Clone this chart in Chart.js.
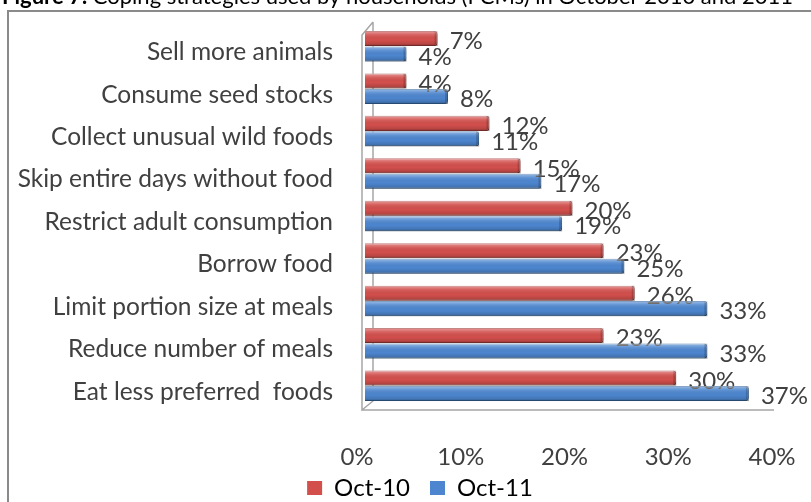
<!DOCTYPE html>
<html lang="en">
<head>
    <meta charset="UTF-8">
    <title>Coping strategies</title>
    <script src="https://cdn.jsdelivr.net/npm/chart.js"></script>
    <style>
        html, body {
            margin: 0;
            padding: 0;
            background: #ffffff;
        }
        #chart {
            display: block;
        }
    </style>
</head>
<body>
    <canvas id="chart" width="811" height="502"></canvas>

    <script>
        const strategies = [
            'Sell more animals',
            'Consume seed stocks',
            'Collect unusual wild foods',
            'Skip entire days without food',
            'Restrict adult consumption',
            'Borrow food',
            'Limit portion size at meals',
            'Reduce number of meals',
            'Eat less preferred  foods'
        ];
        const oct10 = [7, 4, 12, 15, 20, 23, 26, 23, 30];
        const oct11 = [4, 8, 11, 17, 19, 25, 33, 33, 37];
        const seriesNames = ['Oct-10', 'Oct-11'];
        const xTicks = [0, 10, 20, 30, 40];

        const fontFamily = 'Lato, "Open Sans", sans-serif';
        const fontSize = 24;
        const textColor = '#404040';

        // figure caption (sits half out of view above the frame) + outer frame
        const frame = {
            id: 'frame',
            beforeDraw(chart) {
                const ctx = chart.ctx;
                ctx.save();
                ctx.fillStyle = '#ffffff';
                ctx.fillRect(0, 0, chart.width, chart.height);

                ctx.fillStyle = '#000000';
                ctx.textBaseline = 'alphabetic';
                ctx.font = 'bold 22px ' + fontFamily;
                const lead = 'Figure 7: ';
                ctx.fillText(lead, 2, 4);
                const w = ctx.measureText(lead).width;
                ctx.font = '22px ' + fontFamily;
                ctx.fillText('Coping strategies used by households (FCMs) in October 2010 and 2011', 2 + w, 4);

                ctx.strokeStyle = '#8a8a8a';
                ctx.lineWidth = 2;
                ctx.strokeRect(8, 11, chart.width + 20, chart.height + 20);
                ctx.restore();
            }
        };

        // walls of the 3D plot area
        const walls = {
            id: 'walls',
            beforeDatasetsDraw(chart) {
                const a = chart.chartArea;
                const ctx = chart.ctx;
                ctx.save();
                ctx.strokeStyle = '#a6a6a6';
                ctx.lineWidth = 1.5;
                ctx.beginPath();
                ctx.moveTo(a.left + 8, a.top - 3);
                ctx.lineTo(a.left - 3, a.top + 10);
                ctx.lineTo(a.left - 3, a.bottom + 3);
                ctx.lineTo(a.left + 8, a.bottom - 6);
                ctx.lineTo(a.left + 8, a.top - 3);
                ctx.moveTo(a.left - 3, a.bottom + 3);
                ctx.lineTo(a.right - 6, a.bottom + 3);
                ctx.stroke();
                ctx.restore();
            }
        };

        // shading on each bar for the cylinder look, then the value labels
        const barFinish = {
            id: 'barFinish',
            afterDatasetsDraw(chart) {
                const ctx = chart.ctx;
                ctx.save();
                chart.data.datasets.forEach((ds, i) => {
                    const meta = chart.getDatasetMeta(i);
                    meta.data.forEach((bar, j) => {
                        const p = bar.getProps(['x', 'y', 'base', 'height'], true);
                        const top = p.y - p.height / 2;
                        const g = ctx.createLinearGradient(0, top, 0, top + p.height);
                        g.addColorStop(0, 'rgba(255,255,255,0.45)');
                        g.addColorStop(0.25, 'rgba(255,255,255,0.12)');
                        g.addColorStop(0.6, 'rgba(0,0,0,0)');
                        g.addColorStop(0.85, 'rgba(0,0,0,0.12)');
                        g.addColorStop(1, 'rgba(0,0,0,0.35)');
                        ctx.fillStyle = g;
                        ctx.fillRect(p.base, top, p.x - p.base, p.height);
                        ctx.fillStyle = 'rgba(0,0,0,0.18)';
                        ctx.fillRect(p.x - 3, top, 3, p.height);

                        ctx.fillStyle = textColor;
                        ctx.font = fontSize + 'px ' + fontFamily;
                        ctx.textAlign = 'left';
                        ctx.textBaseline = 'middle';
                        ctx.fillText(ds.data[j] + '%', p.x + 12, p.y + 3);
                    });
                });
                ctx.restore();
            }
        };

        // legend takes little room in the layout, then its box is moved
        // and grown so it sits under the tick labels
        const legendFit = {
            id: 'legendFit',
            beforeInit(chart) {
                const fit = chart.legend.fit;
                chart.legend.fit = function () {
                    fit.bind(chart.legend)();
                    this.height = 35;
                };
            },
            afterLayout(chart) {
                const lg = chart.legend;
                lg.top -= 11;
                lg.height = 46;
                lg.bottom = lg.top + lg.height;
                lg.left += 30;
                lg.right += 30;
            }
        };

        new Chart(document.getElementById('chart').getContext('2d'), {
            type: 'bar',
            data: {
                labels: strategies,
                datasets: [{
                    label: seriesNames[0],
                    data: oct10,
                    backgroundColor: '#d24f4c',
                    borderColor: '#a03c3a',
                    borderWidth: 1,
                    borderRadius: 3,
                    borderSkipped: 'left',
                    categoryPercentage: 0.73,
                    barPercentage: 0.97
                }, {
                    label: seriesNames[1],
                    data: oct11,
                    backgroundColor: '#4d86cf',
                    borderColor: '#36679f',
                    borderWidth: 1,
                    borderRadius: 3,
                    borderSkipped: 'left',
                    categoryPercentage: 0.73,
                    barPercentage: 0.97
                }]
            },
            options: {
                indexAxis: 'y',
                responsive: false,
                animation: false,
                layout: {
                    padding: { top: 25, right: 31, bottom: 0, left: 0 }
                },
                scales: {
                    x: {
                        min: xTicks[0],
                        max: xTicks[xTicks.length - 1],
                        afterBuildTicks: scale => {
                            scale.ticks = xTicks.map(v => ({ value: v }));
                        },
                        afterFit: scale => {
                            scale.height = 60;
                            scale.paddingLeft = 0;
                            scale.paddingRight = 0;
                        },
                        grid: { display: false, drawTicks: false },
                        border: { display: false },
                        ticks: {
                            padding: 36,
                            labelOffset: -8,
                            color: textColor,
                            font: { family: fontFamily, size: fontSize },
                            callback: value => value + '%'
                        }
                    },
                    y: {
                        afterFit: scale => {
                            scale.width = 365;
                            scale.paddingTop = 0;
                            scale.paddingBottom = 0;
                        },
                        grid: { display: false, drawTicks: false },
                        border: { display: false },
                        ticks: {
                            padding: 32,
                            labelOffset: 6,
                            color: textColor,
                            font: { family: fontFamily, size: 24.5 }
                        }
                    }
                },
                plugins: {
                    legend: {
                        position: 'bottom',
                        labels: {
                            color: textColor,
                            font: { family: fontFamily, size: fontSize },
                            boxWidth: 15,
                            boxHeight: 14,
                            padding: 20,
                            generateLabels: chart => chart.data.datasets.map((ds, i) => ({
                                text: ds.label,
                                fillStyle: ds.backgroundColor,
                                strokeStyle: ds.backgroundColor,
                                lineWidth: 0,
                                datasetIndex: i
                            }))
                        }
                    },
                    tooltip: { enabled: false }
                }
            },
            plugins: [frame, walls, barFinish, legendFit]
        });
    </script>
</body>
</html>
